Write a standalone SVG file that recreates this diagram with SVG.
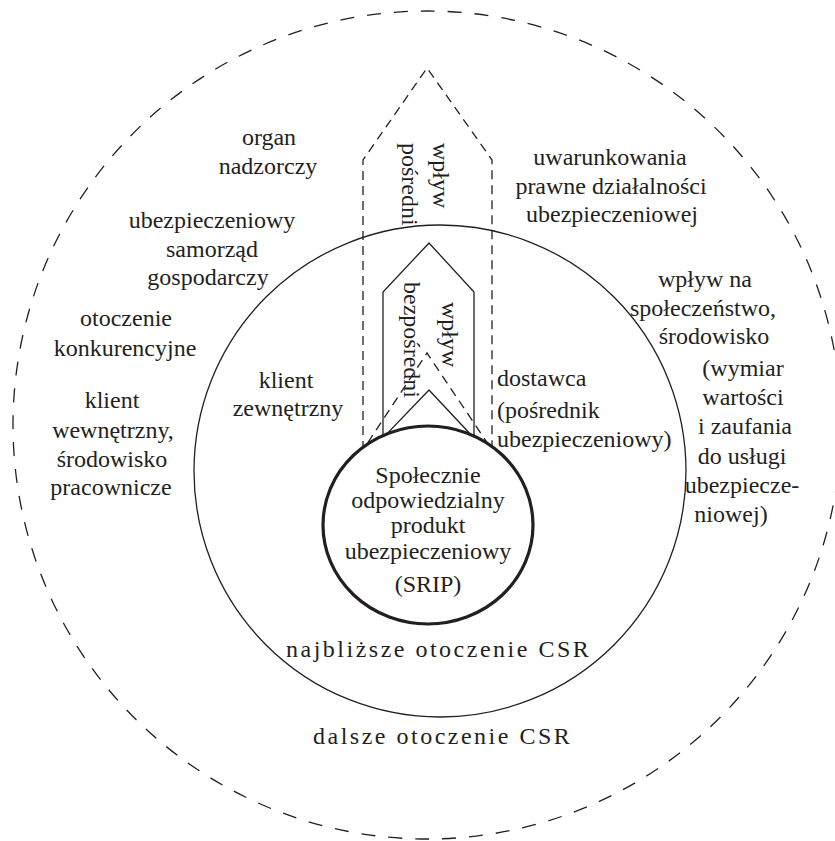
<svg xmlns="http://www.w3.org/2000/svg" width="835" height="841" viewBox="0 0 835 841" font-family="'Liberation Serif', 'Times New Roman', serif" font-size="24">
<style>
text{fill:#231f20}
.m{text-anchor:middle}
.ls{letter-spacing:2.5px}
.outer{fill:none;stroke:#231f20;stroke-width:1.3;stroke-dasharray:14 13}
.inner{fill:none;stroke:#231f20;stroke-width:1.3}
.core{fill:#fff;stroke:#231f20;stroke-width:3.2}
.dash{fill:none;stroke:#231f20;stroke-width:1.3;stroke-dasharray:9 6}
.solid{fill:none;stroke:#231f20;stroke-width:1.3}
</style>
<rect width="835" height="841" fill="#fff"/>
<g id="outer-env">
<circle class="outer" cx="427" cy="425" r="414"/>
<text x="313" y="744" class="ls">dalsze otoczenie CSR</text>
</g>
<g id="inner-env">
<circle class="inner" cx="440" cy="471" r="246"/>
<text x="286" y="657" class="ls">najbliższe otoczenie CSR</text>
</g>
<g id="connectors">
<polygon class="dash" points="363,450 363,160 427,68 492,160 492,450 427,353"/>
<polygon class="solid" points="383,438 383,292 429,243 474,292 474,438 429,390"/>
<text transform="translate(433,143) rotate(90)">wpływ</text>
<text transform="translate(402,143) rotate(90)">pośredni</text>
<text transform="translate(442,302) rotate(90)">wpływ</text>
<text transform="translate(404,282) rotate(90)">bezpośredni</text>
</g>
<g id="srip">
<ellipse class="core" cx="428" cy="525" rx="105" ry="99"/>
<text class="m" x="428" y="483">Społecznie</text>
<text class="m" x="428" y="508">odpowiedzialny</text>
<text class="m" x="428" y="533">produkt</text>
<text class="m" x="428" y="559">ubezpieczeniowy</text>
<text class="m" x="428" y="592">(SRIP)</text>
</g>
<g id="organ-nadzorczy">
<text class="m" x="269" y="145">organ</text>
<text class="m" x="268" y="174">nadzorczy</text>
</g>
<g id="samorzad">
<text class="m" x="212" y="228">ubezpieczeniowy</text>
<text class="m" x="212" y="257">samorząd</text>
<text class="m" x="208" y="285">gospodarczy</text>
</g>
<g id="konkurencja">
<text class="m" x="126" y="326">otoczenie</text>
<text class="m" x="125" y="356">konkurencyjne</text>
</g>
<g id="klient-wewnetrzny">
<text class="m" x="112" y="408">klient</text>
<text class="m" x="113" y="438">wewnętrzny,</text>
<text class="m" x="112" y="467">środowisko</text>
<text class="m" x="111" y="495">pracownicze</text>
</g>
<g id="klient-zewnetrzny">
<text class="m" x="286" y="388">klient</text>
<text class="m" x="288" y="416">zewnętrzny</text>
</g>
<g id="dostawca">
<text x="497" y="386">dostawca</text>
<text x="497" y="418">(pośrednik</text>
<text x="497" y="447">ubezpieczeniowy)</text>
</g>
<g id="uwarunkowania">
<text class="m" x="610" y="165">uwarunkowania</text>
<text class="m" x="611" y="194">prawne działalności</text>
<text class="m" x="612" y="222">ubezpieczeniowej</text>
</g>
<g id="spoleczenstwo">
<text class="m" x="705" y="287">wpływ na</text>
<text class="m" x="703" y="316">społeczeństwo,</text>
<text class="m" x="714" y="344">środowisko</text>
<text class="m" x="743" y="376">(wymiar</text>
<text class="m" x="743" y="405">wartości</text>
<text class="m" x="745" y="434">i zaufania</text>
<text class="m" x="742" y="464">do usługi</text>
<text class="m" x="742" y="493">ubezpiecze-</text>
<text class="m" x="731" y="522">niowej)</text>
</g>
</svg>
